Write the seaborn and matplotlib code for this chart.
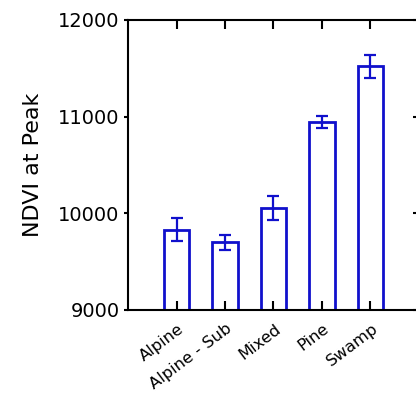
import matplotlib
matplotlib.use("Agg")
import matplotlib.pyplot as plt
import matplotlib.transforms as mtransforms
import pandas as pd
import seaborn as sns

sns.set_style("ticks")
plt.rcParams["font.family"] = ["DejaVu Sans"]
plt.rcParams["text.color"] = "black"
plt.rcParams["axes.labelcolor"] = "black"
plt.rcParams["xtick.color"] = "black"
plt.rcParams["ytick.color"] = "black"

habitats = ["Alpine", "Alpine - Sub", "Mixed", "Pine", "Swamp"]
ndvi_peak = [9830, 9700, 10055, 10940, 11520]
ndvi_err = [120, 75, 125, 62, 122]

blue = "#1010cc"

df = pd.DataFrame({"Habitat": habitats, "NDVI at Peak": ndvi_peak})

fig = plt.figure(figsize=(4.16, 3.96), dpi=100)
ax = fig.add_axes([0.3077, 0.2172, 0.6995, 0.7323])

sns.barplot(data=df, x="Habitat", y="NDVI at Peak", ax=ax, fill=False,
            color=blue, width=0.52, linewidth=2, errorbar=None)
for p in ax.patches:
    p.set_edgecolor(blue)
    p.set_facecolor("white")
    p.set_linewidth(2)
ax.errorbar(range(len(habitats)), ndvi_peak, yerr=ndvi_err, fmt="none",
            ecolor=blue, elinewidth=1.6, capsize=4, capthick=1.6)
ax.set_axisbelow(False)

ax.set_xlim(-1, 5)
ax.set_ylim(9000, 12000)
ax.set_yticks([9000, 10000, 11000, 12000])
ax.set_xlabel("")
ax.set_ylabel("NDVI at Peak", fontsize=16, labelpad=11)

for s in ax.spines.values():
    s.set_visible(True)
    s.set_linewidth(1.5)
    s.set_color("black")
    s.set_zorder(3)

ax.tick_params(axis="y", direction="out", length=3, width=1.5, pad=3,
               labelsize=14, left=True, right=False)
ax.tick_params(axis="x", direction="in", length=6.5, width=1.5, pad=8,
               labelsize=11.8, top=True, bottom=True)

offset = mtransforms.ScaledTranslation(0.10, 0, fig.dpi_scale_trans)
for lab in ax.get_xticklabels():
    lab.set_rotation(37)
    lab.set_ha("right")
    lab.set_va("top")
    lab.set_transform(lab.get_transform() + offset)

ax2 = ax.twinx()
ax2.set_ylim(ax.get_ylim())
ax2.set_yticks([9000, 10000, 11000, 12000])
ax2.tick_params(axis="y", direction="in", length=4.5, width=1.5, labelright=False)
for s in ax2.spines.values():
    s.set_visible(False)

fig.savefig("out.png", dpi=100)
